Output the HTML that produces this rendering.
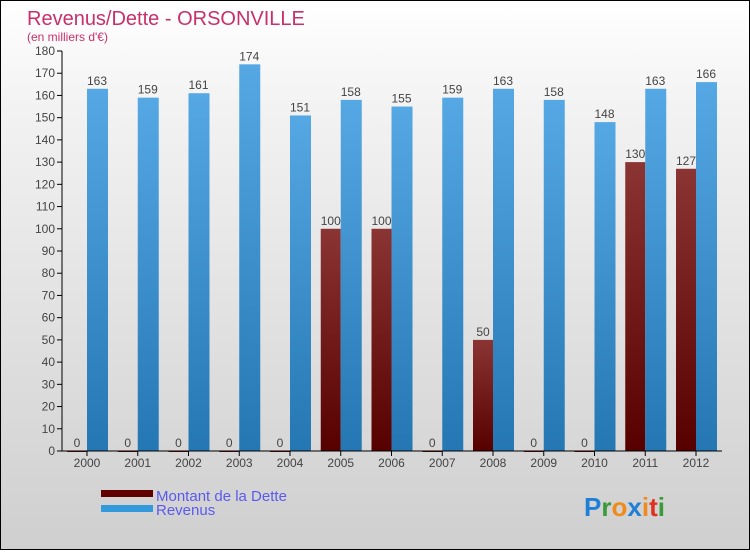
<!DOCTYPE html>
<html><head><meta charset="utf-8"><style>
body{margin:0;width:750px;height:550px;overflow:hidden;font-family:"Liberation Sans",sans-serif}
#c{position:absolute;left:0;top:0;width:748px;height:548px;border:1px solid #000;background:linear-gradient(#ffffff,#f2f2f2 20%,#dcdcdc 70%,#cfcfcf)}
</style></head><body>
<div id="c">
<svg width="750" height="550" id="svg">
<defs>
<linearGradient id="gb" x1="0" y1="0" x2="0" y2="1"><stop offset="0" stop-color="#55a8e4"/><stop offset="1" stop-color="#2477b3"/></linearGradient>
<linearGradient id="gr" x1="0" y1="0" x2="0" y2="1"><stop offset="0" stop-color="#8a3434"/><stop offset="1" stop-color="#560000"/></linearGradient>
</defs>
<text x="26" y="24" font-size="20" fill="#c8306a">Revenus/Dette - ORSONVILLE</text>
<text x="26" y="40" font-size="12" fill="#c8306a">(en milliers d'€)</text>
<g id="plot"></g>
<rect x="100" y="489" width="52" height="7" fill="#600000"/>
<rect x="100" y="504" width="52" height="7" fill="#3399dd"/>
<text x="155" y="500" font-size="15" fill="#5a5af0">Montant de la Dette</text>
<text x="155" y="514" font-size="15" fill="#5a5af0">Revenus</text>
<text x="583" y="515" font-size="26" font-weight="bold"><tspan fill="#1f7fd6">P</tspan><tspan fill="#3a9a3a">r</tspan><tspan fill="#f08a1a">o</tspan><tspan fill="#1f7fd6">x</tspan><tspan fill="#f08a1a">i</tspan><tspan fill="#e03020">t</tspan><tspan fill="#3a9a3a">i</tspan></text>
</svg></div>
<script>
const years=["2000","2001","2002","2003","2004","2005","2006","2007","2008","2009","2010","2011","2012"];
const dette=[0,0,0,0,0,100,100,0,50,0,0,130,127];
const revenus=[163,159,161,174,151,158,155,159,163,158,148,163,166];
const yTicks=[0,10,20,30,40,50,60,70,80,90,100,110,120,130,140,150,160,170,180];
const NS="http://www.w3.org/2000/svg";
const g=document.getElementById('plot');
const y=v=>450-v*400/180;
const x=i=>86+i*50.75;
function el(t,a){const e=document.createElementNS(NS,t);for(const k in a)e.setAttribute(k,a[k]);g.appendChild(e);return e;}
yTicks.forEach(v=>{
 const l=el('line',{x1:56,x2:61,y1:y(v),y2:y(v),stroke:'#000'});
 
 
 const t=el('text',{x:54,y:y(v)+4,'font-size':12,fill:'#444','text-anchor':'end'});t.textContent=v;
 
 
});
years.forEach((yr,i)=>{
 const c=x(i);
 const d=el('rect',{x:c-20,y:y(dette[i]),width:20,height:Math.max(1,450-y(dette[i])),fill:'url(#gr)'});
 
 
 const r=el('rect',{x:c,y:y(revenus[i]),width:21,height:450-y(revenus[i]),fill:'url(#gb)'});
 
 
 const dl=el('text',{x:c-10,y:y(dette[i])-4,'font-size':12,fill:'#444','text-anchor':'middle'});dl.textContent=dette[i];
 
 
 const rl=el('text',{x:c+10,y:y(revenus[i])-4,'font-size':12,fill:'#444','text-anchor':'middle'});rl.textContent=revenus[i];
 
 
 const tk=el('line',{x1:c,x2:c,y1:450,y2:455,stroke:'#000'});
 
 
 const xl=el('text',{x:c,y:466,'font-size':12,fill:'#444','text-anchor':'middle'});xl.textContent=yr;
 
 
});
const ax=el('line',{x1:61,x2:61,y1:50,y2:450,stroke:'#000'});


const bx=el('line',{x1:58,x2:721,y1:450,y2:450,stroke:'#000'});


</script>
</body></html>
